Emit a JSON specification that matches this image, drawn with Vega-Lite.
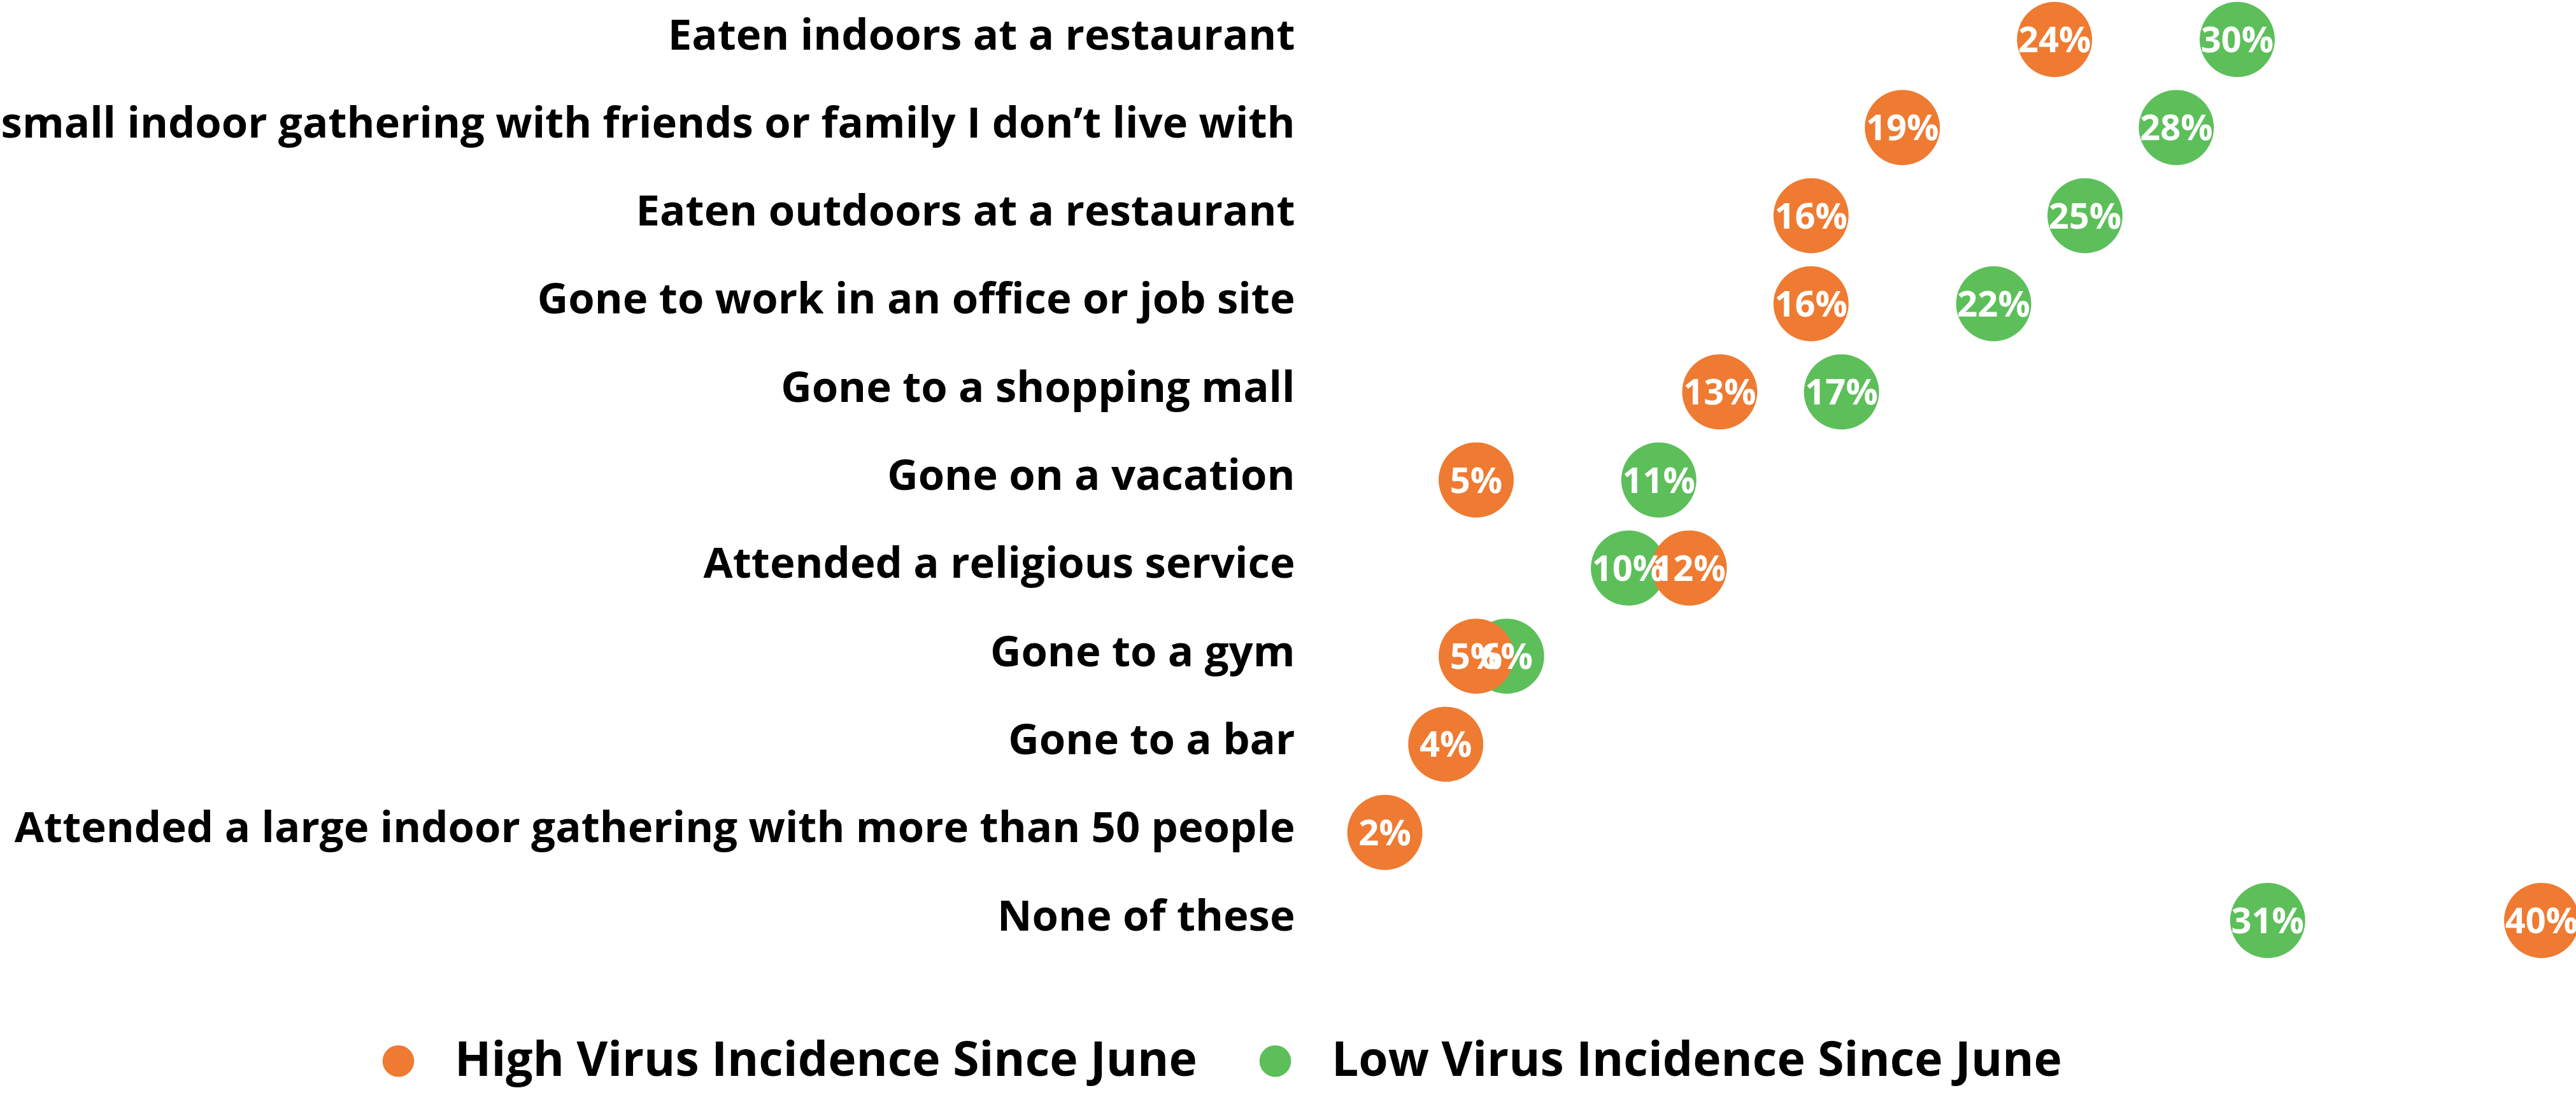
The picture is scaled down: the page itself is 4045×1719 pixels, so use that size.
{
  "$schema": "https://vega.github.io/schema/vega-lite/v6.json",
  "width": 1912,
  "height": 1383,
  "autosize": {"type": "none"},
  "padding": {"left": 2079, "top": 62, "right": 54, "bottom": 274},
  "background": "white",
  "config": {"view": {"stroke": null}, "font": "Open Sans"},
  "data": {
    "values": [
      {"activity": "Eaten indoors at a restaurant", "group": "Low Virus Incidence Since June", "value": 0.30},
      {"activity": "Attended a small indoor gathering with friends or family I don’t live with", "group": "Low Virus Incidence Since June", "value": 0.28},
      {"activity": "Eaten outdoors at a restaurant", "group": "Low Virus Incidence Since June", "value": 0.25},
      {"activity": "Gone to work in an office or job site", "group": "Low Virus Incidence Since June", "value": 0.22},
      {"activity": "Gone to a shopping mall", "group": "Low Virus Incidence Since June", "value": 0.17},
      {"activity": "Gone on a vacation", "group": "Low Virus Incidence Since June", "value": 0.11},
      {"activity": "Attended a religious service", "group": "Low Virus Incidence Since June", "value": 0.10},
      {"activity": "Gone to a gym", "group": "Low Virus Incidence Since June", "value": 0.06},
      {"activity": "None of these", "group": "Low Virus Incidence Since June", "value": 0.31},
      {"activity": "Eaten indoors at a restaurant", "group": "High Virus Incidence Since June", "value": 0.24},
      {"activity": "Attended a small indoor gathering with friends or family I don’t live with", "group": "High Virus Incidence Since June", "value": 0.19},
      {"activity": "Eaten outdoors at a restaurant", "group": "High Virus Incidence Since June", "value": 0.16},
      {"activity": "Gone to work in an office or job site", "group": "High Virus Incidence Since June", "value": 0.16},
      {"activity": "Gone to a shopping mall", "group": "High Virus Incidence Since June", "value": 0.13},
      {"activity": "Gone on a vacation", "group": "High Virus Incidence Since June", "value": 0.05},
      {"activity": "Attended a religious service", "group": "High Virus Incidence Since June", "value": 0.12},
      {"activity": "Gone to a gym", "group": "High Virus Incidence Since June", "value": 0.05},
      {"activity": "Gone to a bar", "group": "High Virus Incidence Since June", "value": 0.04},
      {"activity": "Attended a large indoor gathering with more than 50 people", "group": "High Virus Incidence Since June", "value": 0.02},
      {"activity": "None of these", "group": "High Virus Incidence Since June", "value": 0.40}
    ]
  },
  "encoding": {
    "y": {
      "field": "activity",
      "type": "nominal",
      "sort": [
        "Eaten indoors at a restaurant",
        "Attended a small indoor gathering with friends or family I don’t live with",
        "Eaten outdoors at a restaurant",
        "Gone to work in an office or job site",
        "Gone to a shopping mall",
        "Gone on a vacation",
        "Attended a religious service",
        "Gone to a gym",
        "Gone to a bar",
        "Attended a large indoor gathering with more than 50 people",
        "None of these"
      ],
      "scale": {"type": "point", "padding": 0},
      "axis": {
        "title": null,
        "domain": false,
        "ticks": false,
        "grid": false,
        "labelFontSize": 67,
        "labelFontWeight": "bold",
        "labelColor": "#000000",
        "labelPadding": 46,
        "labelLimit": 0,
        "labelOffset": -5
      }
    },
    "x": {
      "field": "value",
      "type": "quantitative",
      "scale": {"domain": [0, 0.4], "zero": false, "nice": false},
      "axis": null
    }
  },
  "layer": [
    {
      "mark": {"type": "circle", "opacity": 1, "size": 13900},
      "encoding": {
        "color": {
          "field": "group",
          "type": "nominal",
          "scale": {
            "domain": ["High Virus Incidence Since June", "Low Virus Incidence Since June"],
            "range": ["#EF7A31", "#5CBF5A"]
          },
          "legend": {
            "title": null,
            "orient": "none",
            "legendX": -1491,
            "legendY": 1566,
            "direction": "horizontal",
            "symbolType": "circle",
            "symbolSize": 2460,
            "symbolOpacity": 1,
            "symbolStrokeWidth": 0,
            "labelFontSize": 75,
            "labelFontWeight": "bold",
            "labelColor": "#000000",
            "labelOffset": 51,
            "columnPadding": 85,
            "labelLimit": 0
          }
        }
      }
    },
    {
      "mark": {"type": "text", "color": "white", "fontSize": 56, "fontWeight": "bold", "baseline": "middle", "align": "center", "dy": 3},
      "encoding": {
        "text": {"field": "value", "type": "quantitative", "format": ".0%"}
      }
    }
  ]
}
